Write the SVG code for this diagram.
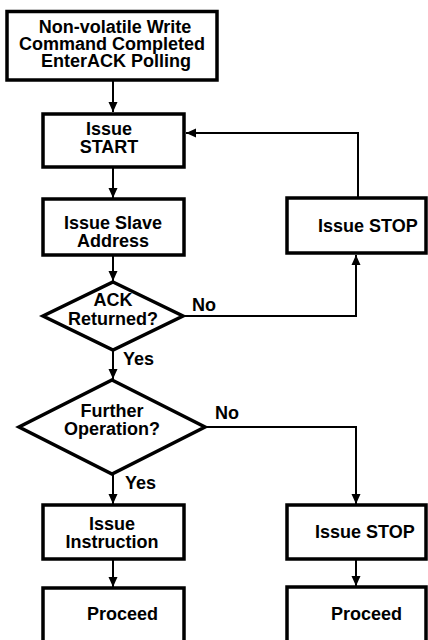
<svg xmlns="http://www.w3.org/2000/svg" width="428" height="640" viewBox="0 0 428 640">
<style>
.box{fill:#fff;stroke:#000;stroke-width:3.5}
.t{font-family:"Liberation Sans",Arial,sans-serif;font-weight:bold;font-size:18px;fill:#000}
.c{text-anchor:middle}
.ln{fill:none;stroke:#000;stroke-width:2}
</style>
<defs>
<marker id="ah" markerUnits="userSpaceOnUse" markerWidth="10" markerHeight="10" viewBox="0 0 10 10" refX="10" refY="5" orient="auto">
<path d="M0,0.5 L10,5 L0,9.5 Z" fill="#000"/>
</marker>
</defs>
<rect width="428" height="640" fill="#fff"/>
<g id="connectors">
<line class="ln" x1="113" y1="80" x2="113" y2="112" marker-end="url(#ah)"/>
<line class="ln" x1="113" y1="167" x2="113" y2="198" marker-end="url(#ah)"/>
<line class="ln" x1="113" y1="255" x2="113" y2="281" marker-end="url(#ah)"/>
<polyline class="ln" points="183,316 356,316 356,255" marker-end="url(#ah)"/>
<polyline class="ln" points="358,198 358,133 186,133" marker-end="url(#ah)"/>
<line class="ln" x1="113" y1="350" x2="113" y2="379" marker-end="url(#ah)"/>
<polyline class="ln" points="205,427 356,427 356,504" marker-end="url(#ah)"/>
<line class="ln" x1="113" y1="474" x2="113" y2="504" marker-end="url(#ah)"/>
<line class="ln" x1="113" y1="559" x2="113" y2="587" marker-end="url(#ah)"/>
<line class="ln" x1="356" y1="559" x2="356" y2="586" marker-end="url(#ah)"/>
<text class="t" x="192" y="311">No</text>
<text class="t" x="123" y="365">Yes</text>
<text class="t" x="215" y="419">No</text>
<text class="t" x="125" y="489">Yes</text>
</g>
<g id="n-start-ack">
<rect class="box" x="7" y="11.5" width="210" height="68.5"/>
<text class="t c" x="115" y="33">Non-volatile Write</text>
<text class="t c" x="112" y="50">Command Completed</text>
<text class="t c" x="116" y="67">EnterACK Polling</text>
</g>
<g id="n-issue-start">
<rect class="box" x="43" y="114" width="141" height="53"/>
<text class="t c" x="109" y="135">Issue</text>
<text class="t c" x="109" y="153">START</text>
</g>
<g id="n-slave">
<rect class="box" x="43" y="199" width="141" height="56"/>
<text class="t c" x="113" y="229">Issue Slave</text>
<text class="t c" x="113" y="247">Address</text>
</g>
<g id="n-stop1">
<rect class="box" x="287" y="198" width="139" height="55"/>
<text class="t" x="318" y="232">Issue STOP</text>
</g>
<g id="n-ack">
<polygon class="box" points="113,282 183,316 113,350 43,316"/>
<text class="t c" x="113" y="306">ACK</text>
<text class="t c" x="113" y="325">Returned?</text>
</g>
<g id="n-further">
<polygon class="box" points="112,380 205,427 112,474 19,427"/>
<text class="t c" x="112" y="417">Further</text>
<text class="t c" x="112" y="435">Operation?</text>
</g>
<g id="n-instruction">
<rect class="box" x="43" y="505" width="141" height="54"/>
<text class="t c" x="112" y="530">Issue</text>
<text class="t c" x="112" y="548">Instruction</text>
</g>
<g id="n-stop2">
<rect class="box" x="287" y="505" width="139" height="54"/>
<text class="t" x="315" y="538">Issue STOP</text>
</g>
<g id="n-proceed1">
<rect class="box" x="43" y="588" width="141" height="60"/>
<text class="t" x="87" y="620">Proceed</text>
</g>
<g id="n-proceed2">
<rect class="box" x="287" y="587" width="139" height="60"/>
<text class="t" x="331" y="620">Proceed</text>
</g>
</svg>
